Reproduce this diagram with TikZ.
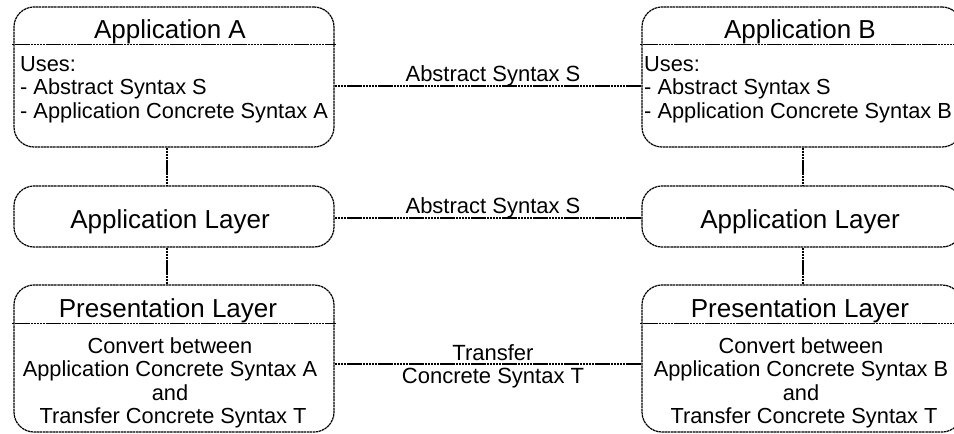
\documentclass[tikz,border=0pt]{standalone}
\usepackage{fontspec}
\setmainfont{Liberation Sans}
\usetikzlibrary{calc,positioning}

\tikzset{
  box/.style={draw, line width=1.2pt, dash pattern=on 2.5pt off 0.6pt, rounded corners=20pt, minimum width=320pt, inner sep=0pt},
  link/.style={draw, line width=1.2pt, dash pattern=on 2.5pt off 0.6pt},
  head/.style={font=\fontsize{26}{28}\selectfont, inner sep=0pt, anchor=base},
  note/.style={font=\fontsize{21.8}{23.5}\selectfont, inner sep=0pt},
  lbl/.style={font=\fontsize{22}{23.5}\selectfont, inner sep=0pt, anchor=base}
}

\begin{document}
\begin{tikzpicture}[x=1pt, y=-1pt]
    \useasboundingbox (0,0) rectangle (954,434);
    \clip (0,0) rectangle (954,434);
    % Application boxes
    \node[box, minimum height=140pt] (appA) at (174,77) {};
    \node[box, minimum height=140pt] (appB) at (802,77) {};
    % Application layers
    \node[box, minimum height=61pt] (layA) at (174,216.5) {};
    \node[box, minimum height=61pt] (layB) at (802,216.5) {};
    % Presentation layers
    \node[box, minimum height=147pt] (preA) at (174,358.5) {};
    \node[box, minimum height=147pt] (preB) at (802,358.5) {};
    % Dividers under the titles
    \draw[link] ($(appA.north west)+(-1.5,38)$) -- ($(appA.north east)+(1.5,38)$);
    \draw[link] ($(appB.north west)+(-1.5,38)$) -- ($(appB.north east)+(1.5,38)$);
    \draw[link] ($(preA.north west)+(-1.5,39)$) -- ($(preA.north east)+(1.5,39)$);
    \draw[link] ($(preB.north west)+(-1.5,39)$) -- ($(preB.north east)+(1.5,39)$);
    % Titles
    \node[head] (tA) at (170,38) {Application A};
    \node[head] (tB) at (800,38) {Application B};
    \node[head] (tLA) at (170,228) {Application Layer};
    \node[head] (tLB) at (800,228) {Application Layer};
    \node[head] (tPA) at (168,317) {Presentation Layer};
    \node[head] (tPB) at (800,317) {Presentation Layer};
    % Box contents
    \node[note, anchor=north west, align=left] (uA) at (20,56)
        {Uses:\\- Abstract Syntax S\\- Application Concrete Syntax A};
    \node[note, anchor=north west, align=left] (uB) at (644,56)
        {Uses:\\- Abstract Syntax S\\- Application Concrete Syntax B};
    \node[note, anchor=north, align=center] (cA) at (170,337)
        {Convert between\\Application Concrete Syntax A\\and\\~Transfer Concrete Syntax T};
    \node[note, anchor=north, align=center] (cB) at (801,337)
        {Convert between\\Application Concrete Syntax B\\and\\~Transfer Concrete Syntax T};
    % Peer links
    \draw[link] ([yshift=-9pt]appA.east) -- ([yshift=-9pt]appB.west)
        node[lbl, midway, yshift=5pt, xshift=5pt] {Abstract Syntax S};
    \draw[link] ([yshift=-1.5pt]layA.east) -- ([yshift=-1.5pt]layB.west)
        node[lbl, midway, yshift=5pt, xshift=5pt] {Abstract Syntax S};
    \draw[link] ([yshift=-5.5pt]preA.east) -- ([yshift=-5.5pt]preB.west)
        node[lbl, midway, yshift=4pt, xshift=5pt] {Transfer}
        node[lbl, midway, yshift=-19pt, xshift=5pt] {Concrete Syntax T};
    % Stack links
    \draw[link] ([xshift=-7pt]appA.south) -- ([xshift=-7pt]layA.north);
    \draw[link] ([xshift=-7pt]layA.south) -- ([xshift=-7pt]preA.north);
    \draw[link] ([xshift=1pt]appB.south) -- ([xshift=1pt]layB.north);
    \draw[link] ([xshift=1pt]layB.south) -- ([xshift=1pt]preB.north);
\end{tikzpicture}
\end{document}
